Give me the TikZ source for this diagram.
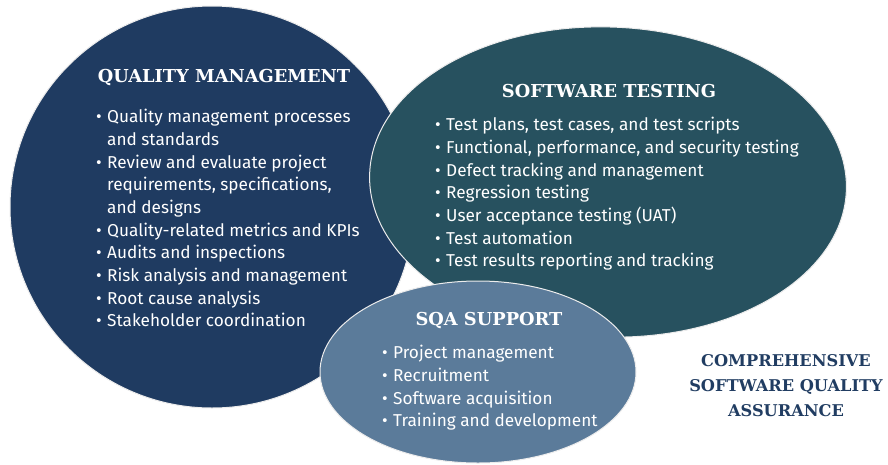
\documentclass[tikz,border=0pt]{standalone}
\usepackage{fontspec}
\usetikzlibrary{shapes.geometric}
\setmainfont{Fira Sans}
\newfontfamily\headfont{DejaVu Serif}
\definecolor{qmblue}{HTML}{1F3B61}
\definecolor{stteal}{HTML}{27515F}
\definecolor{sqablue}{HTML}{5B7B9A}
\definecolor{navytxt}{HTML}{213D62}
\newcommand{\bul}{\makebox[11pt][l]{\textbullet}}
\newcommand{\ind}{\hspace*{11pt}}
\tikzset{
  blob/.style={draw=white!85!gray, line width=1pt},
  head/.style={text=white, font=\headfont\bfseries\fontsize{17.8}{22}\selectfont, inner sep=0pt},
  list/.style={text=white, align=left, inner sep=0pt, font=\fontsize{17.2}{22.7}\selectfont},
}
\begin{document}
\begin{tikzpicture}[x=1pt,y=-1pt]
\useasboundingbox (0,0) rectangle (888,464);
\fill[white] (0,0) rectangle (888,464);
% shapes
\node[blob, fill=qmblue, ellipse, minimum width=404pt, minimum height=402pt, inner sep=0pt] (qm) at (212,207) {};
\node[blob, fill=stteal, ellipse, minimum width=477pt, minimum height=310pt, inner sep=0pt, rotate=-2] (st) at (608,182) {};
\node[blob, fill=sqablue, ellipse, minimum width=316pt, minimum height=182pt, inner sep=0pt] (sqa) at (478,372) {};
% headings
\node[head] (qmh) at (224,77) {QUALITY MANAGEMENT};
\node[head] (sth) at (609,91) {SOFTWARE TESTING};
\node[head] (sqah) at (489,320) {SQA SUPPORT};
% lists
\node[list, anchor=north west] (qml) at (96,109) {\bul Quality management processes\\
\ind and standards\\
\bul Review and evaluate project\\
\ind requirements, specifications,\\
\ind and designs\\
\bul Quality-related metrics and KPIs\\
\bul Audits and inspections\\
\bul Risk analysis and management\\
\bul Root cause analysis\\
\bul Stakeholder coordination};
\node[list, anchor=north west] (stl) at (435,117) {\bul Test plans, test cases, and test scripts\\
\bul Functional, performance, and security testing\\
\bul Defect tracking and management\\
\bul Regression testing\\
\bul User acceptance testing (UAT)\\
\bul Test automation\\
\bul Test results reporting and tracking};
\node[list, anchor=north west] (sqal) at (382,345) {\bul Project management\\
\bul Recruitment\\
\bul Software acquisition\\
\bul Training and development};
% caption
\node[text=navytxt, align=center, inner sep=0pt, font=\headfont\bfseries\fontsize{16.2}{25}\selectfont] (cap) at (786,386) {COMPREHENSIVE\\SOFTWARE QUALITY\\ASSURANCE};
\end{tikzpicture}
\end{document}
